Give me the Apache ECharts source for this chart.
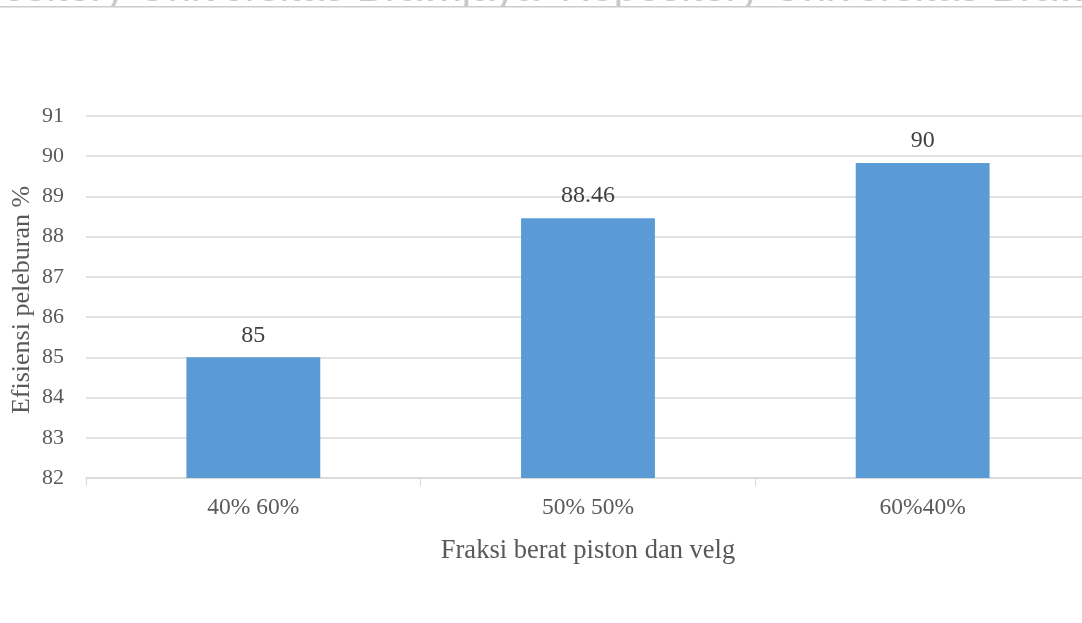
<!DOCTYPE html>
<html>
<head>
<meta charset="utf-8">
<script src="https://cdn.jsdelivr.net/npm/echarts@6/dist/echarts.min.js"></script>
<style>html,body{margin:0;padding:0;background:#fff;}#c{width:1082px;height:623px;}</style>
</head>
<body>
<div id="c"></div>
<script>
const categories = ['40% 60%', '50% 50%', '60%40%'];
const values = [85, 88.46, 89.83];
const valueLabels = ['85', '88.46', '90'];
const yTicks = [82, 83, 84, 85, 86, 87, 88, 89, 90, 91];
const xTitle = 'Fraksi berat piston dan velg';
const yTitle = 'Efisiensi peleburan %';
const watermark = 'Repository Universitas Brawijaya';

const chart = echarts.init(document.getElementById('c'));
const serif = 'Liberation Serif';
chart.setOption({
  animation: false,
  backgroundColor: '#ffffff',
  grid: { left: 86, right: -8, top: 116, bottom: 145, containLabel: false, outerBoundsMode: 'none' },
  xAxis: {
    type: 'category',
    data: categories,
    axisLine: { show: true, lineStyle: { color: '#d9d9d9', width: 1.5 } },
    axisTick: { show: true, length: 8, lineStyle: { color: '#d9d9d9' } },
    axisLabel: { color: '#595959', fontFamily: serif, fontSize: 23.5, margin: 18 },
    name: xTitle,
    nameLocation: 'middle',
    nameGap: 60,
    nameTextStyle: { color: '#595959', fontFamily: serif, fontSize: 26.5 }
  },
  yAxis: {
    type: 'value',
    min: yTicks[0],
    max: yTicks[yTicks.length - 1],
    interval: 1,
    axisLine: { show: false },
    axisTick: { show: false },
    splitLine: { lineStyle: { color: '#d9d9d9', width: 1.5 } },
    axisLabel: { color: '#595959', fontFamily: serif, fontSize: 22, margin: 22 }
  },
  series: [{
    type: 'bar',
    data: values,
    barWidth: '40%',
    itemStyle: { color: '#5b9bd5' },
    label: {
      show: true,
      position: 'top',
      distance: 10,
      color: '#404040',
      fontFamily: serif,
      fontSize: 24,
      formatter: p => valueLabels[p.dataIndex]
    }
  }],
  graphic: [
    { type: 'text', x: 22, y: 300, rotation: Math.PI / 2,
      style: { text: yTitle, fill: '#595959', font: '26px "Liberation Serif"', align: 'center', verticalAlign: 'middle' } },
    { type: 'text', x: -75, y: -32, style: { text: watermark, fill: '#c8c8c8', font: '42px "Liberation Sans"', verticalAlign: 'top' } },
    { type: 'text', x: 560, y: -32, style: { text: watermark, fill: '#c8c8c8', font: '42px "Liberation Sans"', verticalAlign: 'top' } },
    { type: 'rect', shape: { x: 0, y: 6.5, width: 1082, height: 20 }, style: { fill: '#ffffff' } },
    { type: 'rect', shape: { x: 0, y: 6, width: 1082, height: 1.5 }, style: { fill: '#cccccc' } }
  ]
});
</script>
</body>
</html>
